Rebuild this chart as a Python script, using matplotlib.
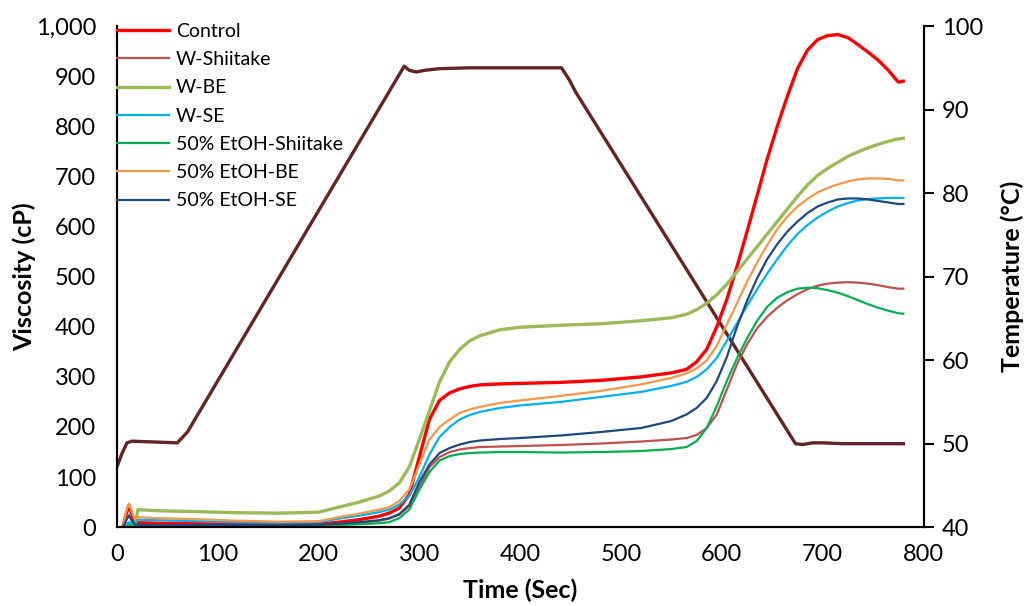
import matplotlib.pyplot as plt
import numpy as np

plt.rcParams["font.family"] = ["Lato", "DejaVu Sans"]

# viscosity readings (cP) over time (s)
time_s = [6, 9, 12, 15, 18, 21, 40, 80, 120, 160, 200, 220, 240, 260, 270, 280, 290, 300, 310, 320,
          330, 340, 350, 360, 380, 400, 440, 480, 520, 550, 565, 575, 585, 595, 605, 615, 625, 635,
          645, 655, 665, 675, 685, 695, 705, 715, 725, 735, 745, 755, 765, 775, 780]

control = [0, 25, 44, 25, 8, 9, 8, 7, 6, 5, 6, 10, 15, 22, 28, 38, 65, 140, 215, 253,
           268, 276, 281, 284, 286, 287, 289, 293, 300, 308, 315, 330, 355, 400, 455, 520, 590, 662,
           735, 800, 860, 915, 952, 973, 981, 983, 977, 963, 948, 932, 912, 888, 890]
w_shiitake = [0, 2, 5, 3, 2, 3, 3, 3, 3, 3, 4, 6, 9, 13, 17, 25, 42, 80, 120, 140,
              150, 155, 158, 160, 161, 162, 164, 167, 171, 175, 178, 184, 198, 225, 275, 325, 365, 397,
              420, 438, 453, 465, 475, 482, 486, 488, 489, 488, 486, 483, 479, 476, 476]
w_be = [0, 0, 0, 0, 5, 35, 33, 31, 29, 28, 30, 40, 50, 62, 72, 88, 120, 175, 232, 290,
        330, 355, 372, 382, 394, 399, 403, 406, 412, 418, 425, 434, 447, 464, 485, 510, 535, 560,
        585, 610, 635, 660, 683, 702, 716, 728, 740, 749, 757, 764, 770, 775, 776]
w_se = [0, 5, 10, 6, 10, 15, 14, 12, 10, 9, 10, 17, 23, 30, 35, 45, 62, 100, 145, 180,
        200, 215, 224, 230, 238, 243, 250, 260, 270, 282, 290, 300, 315, 338, 372, 407, 442, 475,
        506, 535, 562, 585, 603, 618, 630, 640, 647, 652, 655, 656, 657, 657, 657]
etoh_shiitake = [0, 2, 4, 2, 1, 1, 1, 1, 1, 1, 2, 4, 6, 8, 10, 18, 35, 75, 110, 133,
                 142, 146, 148, 149, 150, 150, 149, 150, 152, 156, 160, 172, 198, 242, 292, 337, 377, 412,
                 440, 458, 469, 476, 478, 477, 473, 468, 461, 453, 445, 438, 432, 427, 426]
etoh_be = [0, 30, 47, 30, 15, 20, 18, 16, 13, 11, 12, 20, 27, 35, 40, 52, 75, 125, 175, 200,
           215, 228, 235, 240, 248, 253, 262, 272, 285, 298, 307, 317, 333, 362, 405, 447, 490, 528,
           563, 595, 620, 640, 655, 668, 677, 684, 690, 694, 696, 696, 695, 692, 692]
etoh_se = [0, 12, 24, 12, 5, 5, 4, 4, 4, 4, 5, 7, 10, 14, 18, 26, 45, 90, 125, 148,
           158, 165, 170, 173, 176, 178, 183, 190, 198, 212, 225, 238, 258, 292, 340, 400, 452, 497,
           535, 565, 590, 610, 627, 640, 648, 654, 656, 656, 654, 651, 648, 645, 645]

# temperature profile (°C)
temp_time = [0, 5, 10, 15, 60, 70, 285, 290, 297, 305, 320, 350, 441, 449, 455, 673, 680, 690, 700, 720, 780]
temp_c = [47.2, 48.8, 50.1, 50.3, 50.1, 51.4, 95.2, 94.7, 94.5, 94.7, 94.9, 95.0, 95.0, 93.5, 92.1,
          50.0, 49.9, 50.1, 50.1, 50.0, 50.0]

series = [
    ("Control", control, "#FF0000", 2.4),
    ("W-Shiitake", w_shiitake, "#C0504D", 1.6),
    ("W-BE", w_be, "#9BBB59", 2.4),
    ("W-SE", w_se, "#00B0F0", 1.6),
    ("50% EtOH-Shiitake", etoh_shiitake, "#00B050", 1.6),
    ("50% EtOH-BE", etoh_be, "#F79646", 1.6),
    ("50% EtOH-SE", etoh_se, "#1F497D", 1.6),
]

fig = plt.figure(figsize=(10.25, 6.06), dpi=100)
ax = fig.add_axes([0.114, 0.130, 0.787, 0.827])
ax2 = ax.twinx()

for name, vals, color, lw in series:
    ax.plot(time_s, vals, color=color, lw=lw, label=name)

ax2.plot(temp_time, temp_c, color="#632523", lw=2.4)
ax.set_zorder(ax2.get_zorder() + 1)
ax.patch.set_visible(False)

ax.set_xlim(0, 800)
ax.set_ylim(0, 1000)
ax2.set_ylim(40, 100)
ax.set_xticks(np.arange(0, 801, 100))
ax.set_yticks(np.arange(0, 1001, 100))
ax.set_yticklabels([f"{v:,}" for v in range(0, 1001, 100)])
ax2.set_yticks(np.arange(40, 101, 10))

for a in (ax, ax2):
    a.spines["top"].set_visible(False)
    for s in ("left", "bottom", "right"):
        a.spines[s].set_linewidth(1.5)
        a.spines[s].set_color("black")

ax.tick_params(axis="both", length=0, labelsize=17, pad=12)
ax.tick_params(axis="y", pad=15)
ax2.tick_params(axis="y", length=7, width=1.5, labelsize=17, pad=6)

ax.set_xlabel("Time (Sec)", fontsize=18, fontweight="bold", labelpad=10)
ax.set_ylabel("Viscosity (cP)", fontsize=18, fontweight="bold")
ax2.set_ylabel("Temperature (°C)", fontsize=18, fontweight="bold")
ax.yaxis.set_label_coords(-0.100, 0.5)
ax2.yaxis.set_label_coords(1.095, 0.5)

ax.legend(loc="upper left", frameon=False, fontsize=14, handlelength=2.7, handletextpad=0.35,
          labelspacing=0.58, borderaxespad=0.0, bbox_to_anchor=(-0.01, 1.022))

fig.savefig("out.png", dpi=100)
